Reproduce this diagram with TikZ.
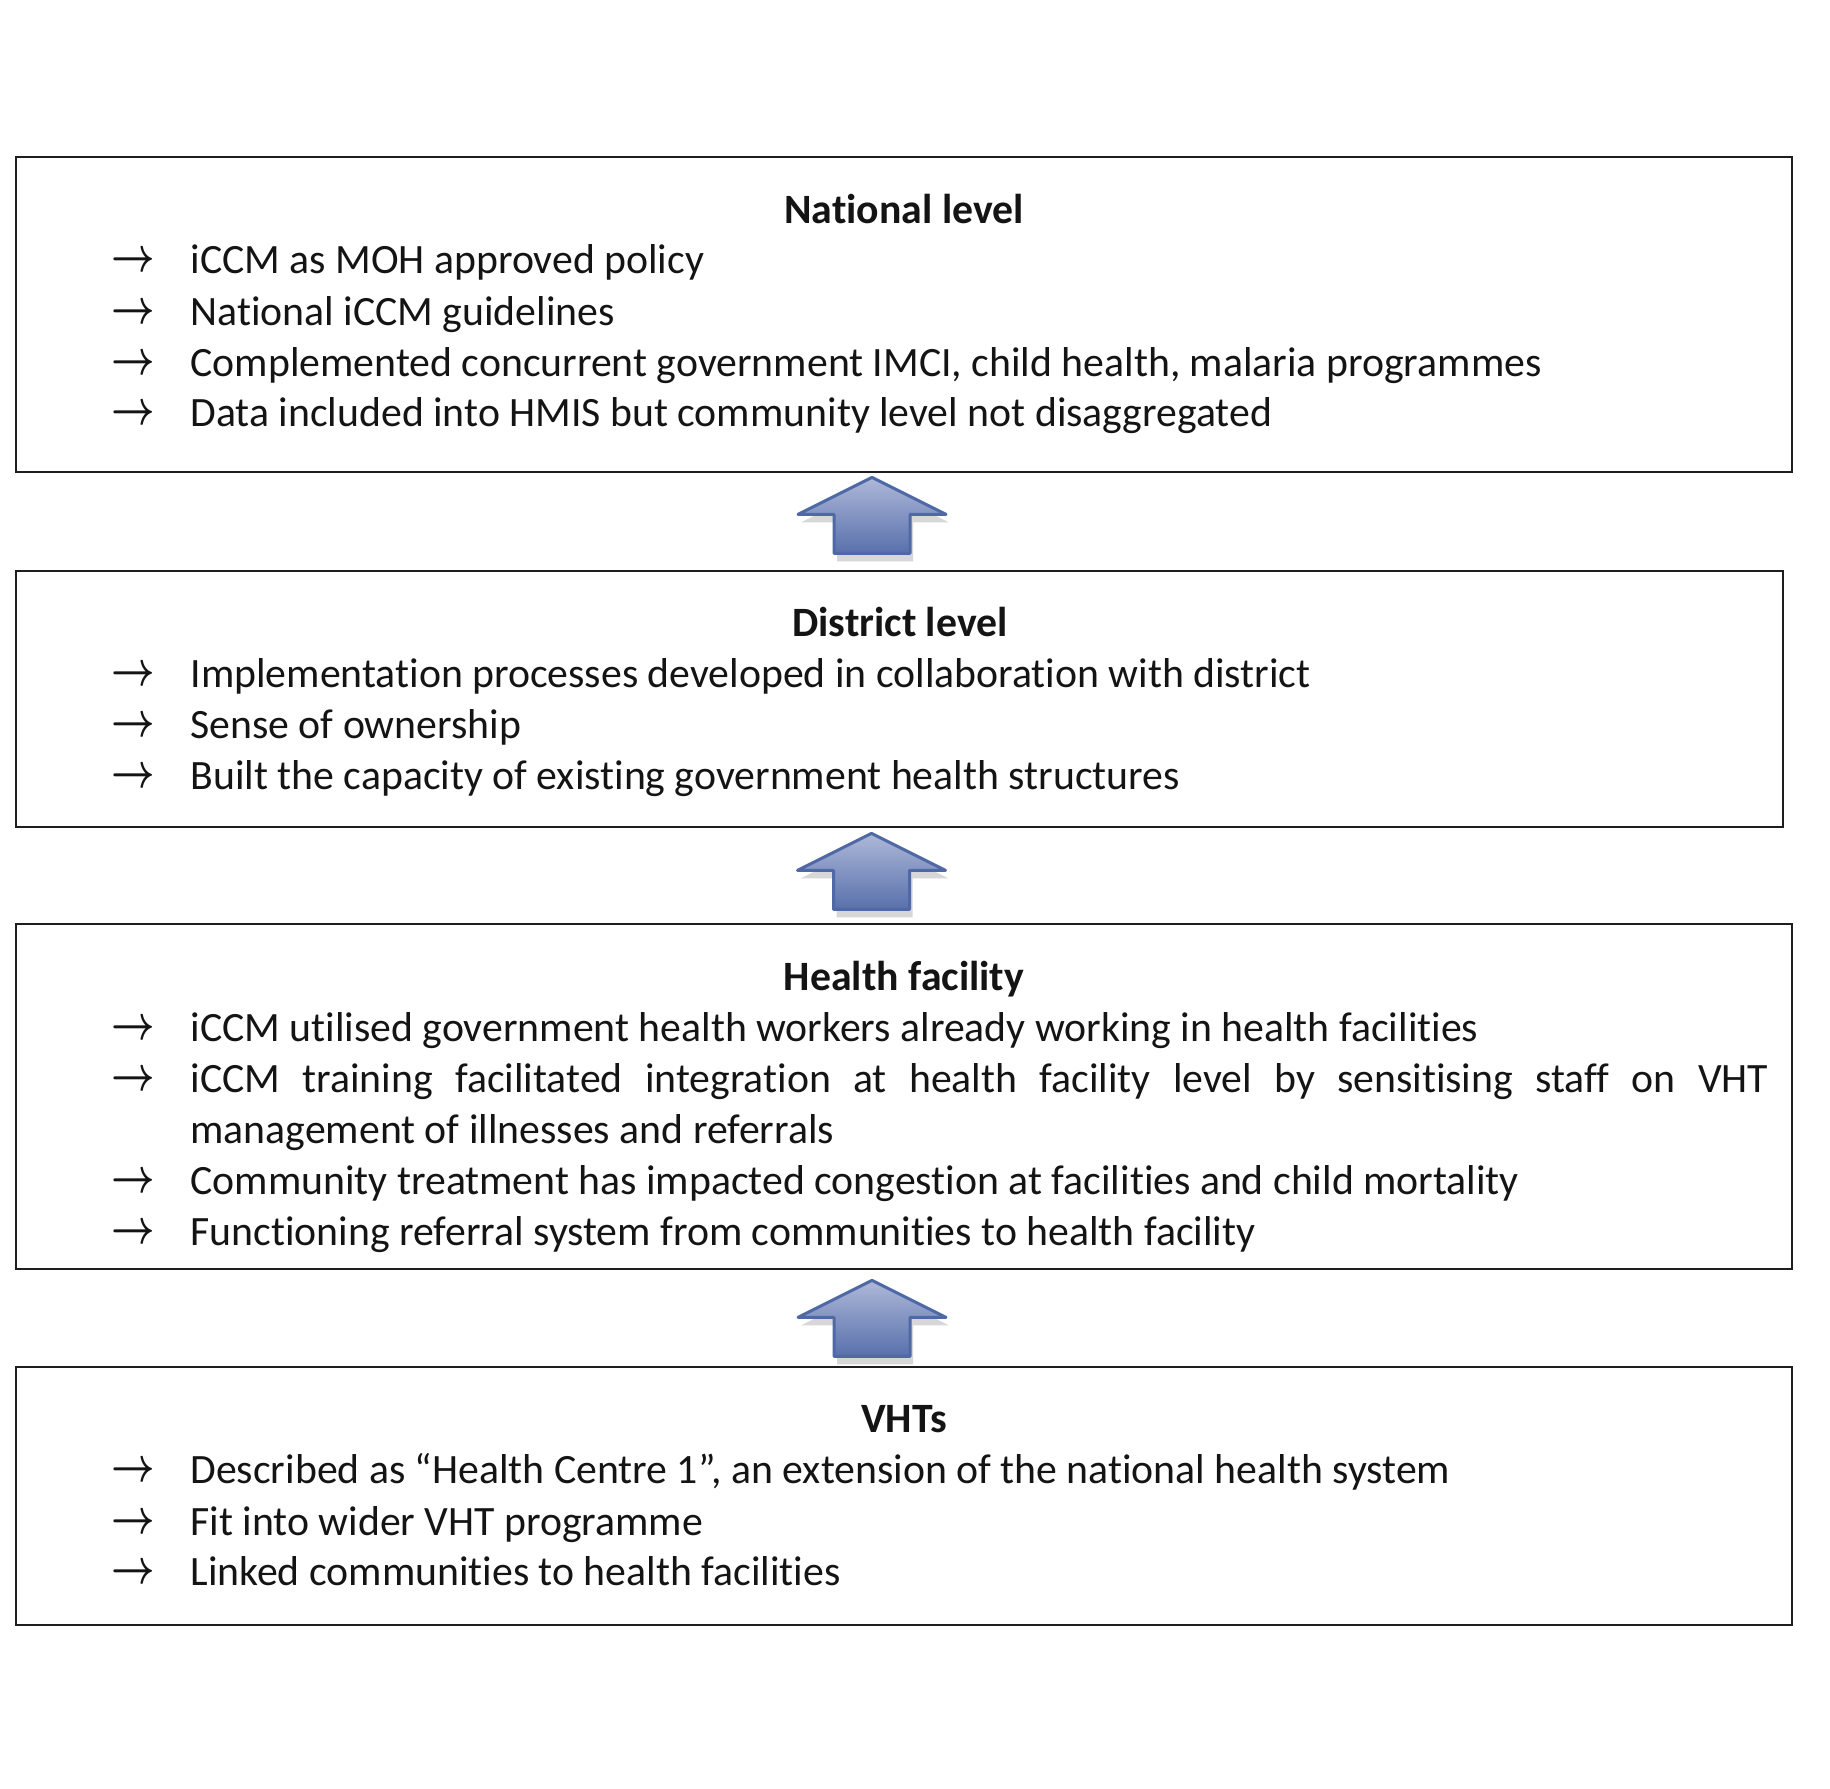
\documentclass[tikz,border=0pt]{standalone}
\usepackage{amsmath}
\usepackage{graphicx}
\usepackage{fontspec}
\setmainfont[Ligatures={TeX,NoCommon}]{Carlito}
\usetikzlibrary{fit,calc}
\definecolor{boxline}{RGB}{30,30,30}
\definecolor{textcol}{RGB}{20,20,20}
\definecolor{arrline}{RGB}{79,104,166}
\definecolor{arrtop}{RGB}{174,184,216}
\definecolor{arrbot}{RGB}{88,112,172}
\definecolor{arrshadow}{RGB}{215,215,215}
\tikzset{
  levelbox/.style={draw=boxline, line width=1.1pt, inner sep=0pt},
  titletext/.style={font=\fontsize{16.7}{20}\selectfont\bfseries, anchor=base, inner sep=0pt, text=textcol},
  itemtext/.style={font=\fontsize{16.7}{20}\selectfont, anchor=base west, inner sep=0pt, text=textcol},
  bullet/.style={font=\fontsize{14}{17}\selectfont, anchor=base, inner sep=0pt, text=textcol},
  blockarrow/.style={draw=arrline, line width=1.2pt, line join=round, top color=arrtop, bottom color=arrbot},
  arrowshadow/.style={fill=arrshadow, draw=none},
}
\newcommand{\uparr}[1]{%
  \path[arrowshadow, shift={($(#1)+(3,8)$)}] (0,0) -- (74,37) -- (38,37) -- (38,76) -- (-38,76) -- (-38,37) -- (-74,37) -- cycle;
  \path[blockarrow, shift={(#1)}] (0,0) -- (74,37) -- (38,37) -- (38,76) -- (-38,76) -- (-38,37) -- (-74,37) -- cycle;
}
\newcommand{\barr}{\scalebox{1.05}[1.35]{$\boldsymbol{\rightarrow}$}}
% one item: name, baseline y, text (bullet arrow glyph + text)
\newcommand{\levelitem}[3]{%
  \node[bullet] (#1B) at (133,#2-2) {\barr};
  \node[itemtext] (#1) at (190,#2) {#3};
}
\begin{document}
\begin{tikzpicture}[x=0.4pt, y=-0.4pt]
\useasboundingbox (0,0) rectangle (1830,1788);
\fill[white] (0,0) rectangle (1830,1788);

% boxes
\node[levelbox, fit={(16,157) (1792,472)}] (nat) {};
\node[levelbox, fit={(16,571) (1783,827)}] (dist) {};
\node[levelbox, fit={(16,924) (1792,1269)}] (hf) {};
\node[levelbox, fit={(16,1367) (1792,1625)}] (vht) {};

% National level
\node[titletext] (natT) at (904,223) {National level};
\levelitem{nat1}{273}{iCCM as MOH approved policy}
\levelitem{nat2}{325}{National iCCM guidelines}
\levelitem{nat3}{376}{Complemented concurrent government IMCI, child health, malaria programmes}
\levelitem{nat4}{426}{Data included into HMIS but community level not disaggregated}

% District level
\node[titletext] (distT) at (900,636) {District level};
\levelitem{dist1}{687}{Implementation processes developed in collaboration with district}
\levelitem{dist2}{738}{Sense of ownership}
\levelitem{dist3}{789}{Built the capacity of existing government health structures}

% Health facility
\node[titletext] (hfT) at (904,990) {Health facility};
\levelitem{hf1}{1041}{iCCM utilised government health workers already working in health facilities}
\levelitem{hf2}{1092}{\makebox[631.2pt][s]{iCCM training facilitated integration at health facility level by sensitising staff on VHT}}
\node[itemtext] (hf2b) at (190,1143) {management of illnesses and referrals};
\levelitem{hf3}{1194}{Community treatment has impacted congestion at facilities and child mortality}
\levelitem{hf4}{1245}{Functioning referral system from communities to health facility}

% VHTs
\node[titletext] (vhtT) at (904,1432) {VHTs};
\levelitem{vht1}{1483}{Described as ``Health Centre 1'', an extension of the national health system}
\levelitem{vht2}{1535}{Fit into wider VHT programme}
\levelitem{vht3}{1585}{Linked communities to health facilities}

% block arrows
\coordinate (a1) at ($(nat.south)+(-32,4)$);
\coordinate (a2) at ($(dist.south)+(-28,5)$);
\coordinate (a3) at ($(hf.south)+(-32,10)$);
\uparr{a1}
\uparr{a2}
\uparr{a3}
\end{tikzpicture}
\end{document}
